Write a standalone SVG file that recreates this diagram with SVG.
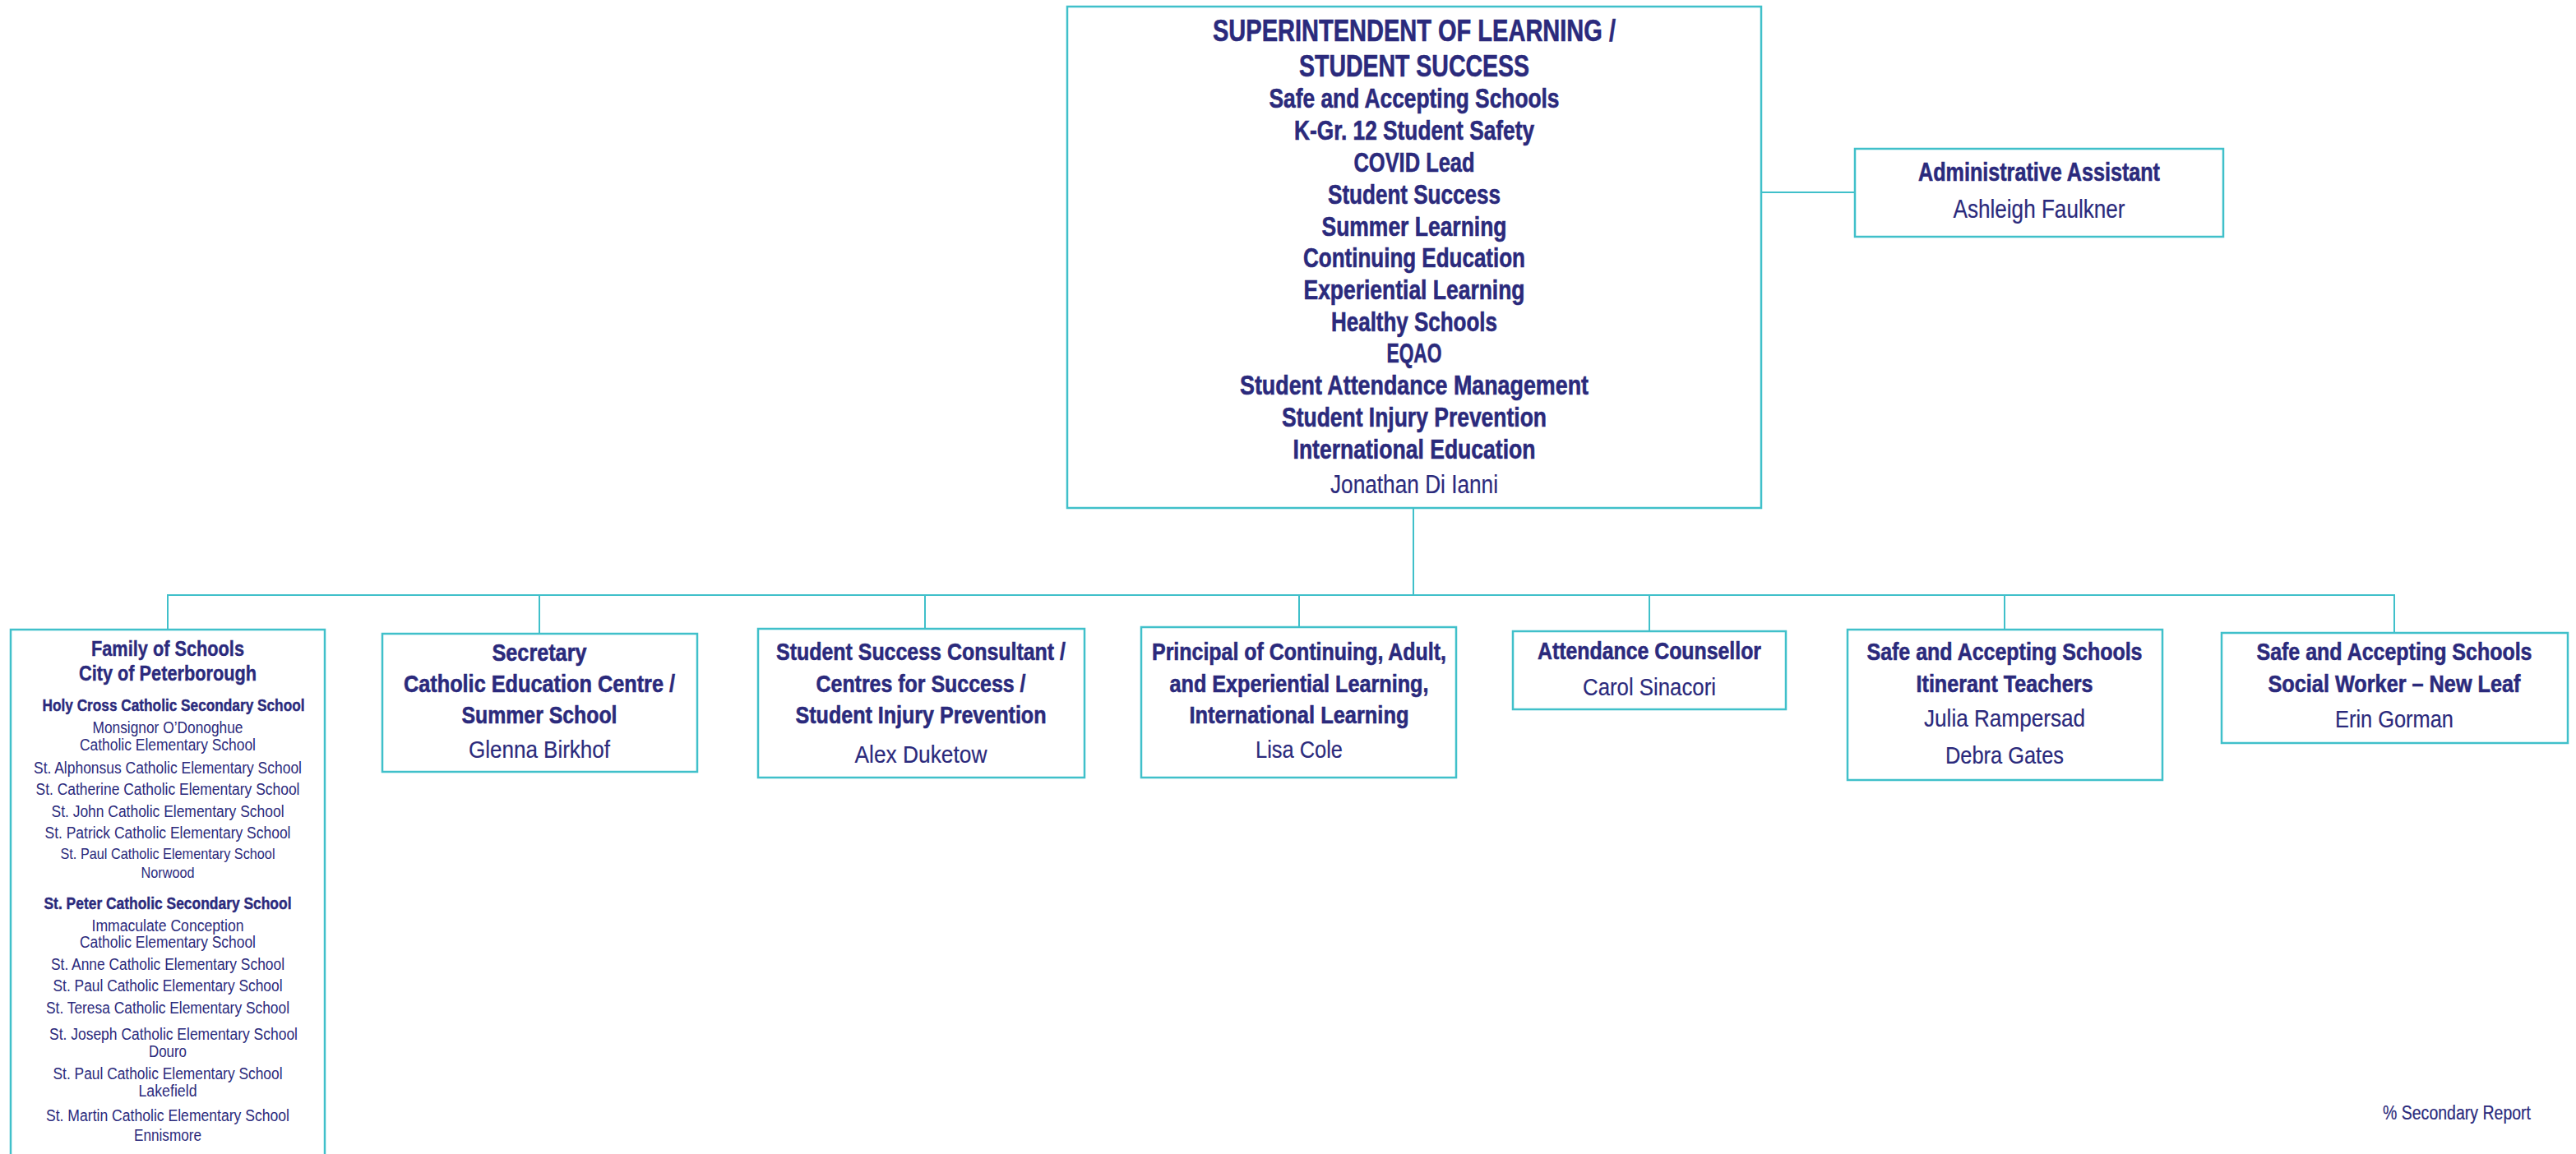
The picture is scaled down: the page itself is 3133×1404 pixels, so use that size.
<svg xmlns="http://www.w3.org/2000/svg" width="3133" height="1404" viewBox="0 0 3133 1404">
<style>
.box{fill:#ffffff;stroke:#40c0ca;stroke-width:2.5}
.ln{stroke:#40c0ca;stroke-width:2;fill:none}
.b{font-family:"Liberation Sans Narrow","Liberation Sans",Arial,sans-serif;font-weight:bold;fill:#2b2a7c;stroke:#2b2a7c;stroke-width:0.6;text-anchor:middle}
.r{font-family:"Liberation Sans Narrow","Liberation Sans",Arial,sans-serif;font-weight:normal;fill:#2b2a7c;stroke:#2b2a7c;stroke-width:0.2;text-anchor:middle}
.fb{font-family:"Liberation Sans Narrow","Liberation Sans",Arial,sans-serif;font-weight:bold;fill:#2b2a7c;stroke:#2b2a7c;stroke-width:0.4;text-anchor:middle}
.fr{font-family:"Liberation Sans Narrow","Liberation Sans",Arial,sans-serif;font-weight:normal;fill:#2b2a7c;text-anchor:middle}
</style>
<rect width="3133" height="1404" fill="#ffffff"/>
<g id="connectors">
<line class="ln" x1="2142" y1="234" x2="2256" y2="234"/>
<line class="ln" x1="1719" y1="618" x2="1719" y2="724"/>
<line class="ln" x1="203" y1="724" x2="2913" y2="724"/>
<line class="ln" x1="204" y1="724" x2="204" y2="766"/>
<line class="ln" x1="656" y1="724" x2="656" y2="771"/>
<line class="ln" x1="1125" y1="724" x2="1125" y2="765"/>
<line class="ln" x1="1580" y1="724" x2="1580" y2="763"/>
<line class="ln" x1="2006" y1="724" x2="2006" y2="768"/>
<line class="ln" x1="2438" y1="724" x2="2438" y2="766"/>
<line class="ln" x1="2912" y1="724" x2="2912" y2="770"/>
</g>
<g id="superintendent">
<rect class="box" x="1298" y="8" width="844" height="610"/>
<text class="b" x="1720" y="50" font-size="37" textLength="490" lengthAdjust="spacingAndGlyphs">SUPERINTENDENT OF LEARNING /</text>
<text class="b" x="1720" y="93" font-size="37" textLength="280" lengthAdjust="spacingAndGlyphs">STUDENT SUCCESS</text>
<text class="b" x="1720" y="131" font-size="33" textLength="353" lengthAdjust="spacingAndGlyphs">Safe and Accepting Schools</text>
<text class="b" x="1720" y="170" font-size="33" textLength="292" lengthAdjust="spacingAndGlyphs">K-Gr. 12 Student Safety</text>
<text class="b" x="1720" y="209" font-size="33" textLength="147" lengthAdjust="spacingAndGlyphs">COVID Lead</text>
<text class="b" x="1720" y="248" font-size="33" textLength="210" lengthAdjust="spacingAndGlyphs">Student Success</text>
<text class="b" x="1720" y="287" font-size="33" textLength="225" lengthAdjust="spacingAndGlyphs">Summer Learning</text>
<text class="b" x="1720" y="325" font-size="33" textLength="270" lengthAdjust="spacingAndGlyphs">Continuing Education</text>
<text class="b" x="1720" y="364" font-size="33" textLength="269" lengthAdjust="spacingAndGlyphs">Experiential Learning</text>
<text class="b" x="1720" y="403" font-size="33" textLength="202" lengthAdjust="spacingAndGlyphs">Healthy Schools</text>
<text class="b" x="1720" y="441" font-size="33" textLength="67" lengthAdjust="spacingAndGlyphs">EQAO</text>
<text class="b" x="1720" y="480" font-size="33" textLength="424" lengthAdjust="spacingAndGlyphs">Student Attendance Management</text>
<text class="b" x="1720" y="519" font-size="33" textLength="322" lengthAdjust="spacingAndGlyphs">Student Injury Prevention</text>
<text class="b" x="1720" y="558" font-size="33" textLength="295" lengthAdjust="spacingAndGlyphs">International Education</text>
<text class="r" x="1720" y="600" font-size="31" textLength="204" lengthAdjust="spacingAndGlyphs">Jonathan Di Ianni</text>
</g>
<g id="admin-assistant">
<rect class="box" x="2256" y="181" width="448" height="107"/>
<text class="b" x="2480" y="220" font-size="31" textLength="294" lengthAdjust="spacingAndGlyphs">Administrative Assistant</text>
<text class="r" x="2480" y="265" font-size="31" textLength="209" lengthAdjust="spacingAndGlyphs">Ashleigh Faulkner</text>
</g>
<g id="family-of-schools">
<rect class="box" x="13" y="766" width="382" height="660"/>
<text class="fb" x="204" y="798" font-size="25" textLength="186" lengthAdjust="spacingAndGlyphs">Family of Schools</text>
<text class="fb" x="204" y="828" font-size="25" textLength="216" lengthAdjust="spacingAndGlyphs">City of Peterborough</text>
<text class="fb" x="211" y="865" font-size="20" textLength="319" lengthAdjust="spacingAndGlyphs">Holy Cross Catholic Secondary School</text>
<text class="fr" x="204" y="892" font-size="19.5" textLength="183" lengthAdjust="spacingAndGlyphs">Monsignor O’Donoghue</text>
<text class="fr" x="204" y="913" font-size="19.5" textLength="214" lengthAdjust="spacingAndGlyphs">Catholic Elementary School</text>
<text class="fr" x="204" y="941" font-size="20" textLength="326" lengthAdjust="spacingAndGlyphs">St. Alphonsus Catholic Elementary School</text>
<text class="fr" x="204" y="967" font-size="20" textLength="321" lengthAdjust="spacingAndGlyphs">St. Catherine Catholic Elementary School</text>
<text class="fr" x="204" y="994" font-size="20" textLength="283" lengthAdjust="spacingAndGlyphs">St. John Catholic Elementary School</text>
<text class="fr" x="204" y="1020" font-size="20" textLength="299" lengthAdjust="spacingAndGlyphs">St. Patrick Catholic Elementary School</text>
<text class="fr" x="204" y="1045" font-size="19" textLength="261" lengthAdjust="spacingAndGlyphs">St. Paul Catholic Elementary School</text>
<text class="fr" x="204" y="1068" font-size="19" textLength="65" lengthAdjust="spacingAndGlyphs">Norwood</text>
<text class="fb" x="204" y="1106" font-size="20" textLength="301" lengthAdjust="spacingAndGlyphs">St. Peter Catholic Secondary School</text>
<text class="fr" x="204" y="1133" font-size="19.5" textLength="185" lengthAdjust="spacingAndGlyphs">Immaculate Conception</text>
<text class="fr" x="204" y="1153" font-size="19.5" textLength="214" lengthAdjust="spacingAndGlyphs">Catholic Elementary School</text>
<text class="fr" x="204" y="1180" font-size="20" textLength="284" lengthAdjust="spacingAndGlyphs">St. Anne Catholic Elementary School</text>
<text class="fr" x="204" y="1206" font-size="20" textLength="279" lengthAdjust="spacingAndGlyphs">St. Paul Catholic Elementary School</text>
<text class="fr" x="204" y="1233" font-size="20" textLength="296" lengthAdjust="spacingAndGlyphs">St. Teresa Catholic Elementary School</text>
<text class="fr" x="211" y="1265" font-size="20" textLength="302" lengthAdjust="spacingAndGlyphs">St. Joseph Catholic Elementary School</text>
<text class="fr" x="204" y="1286" font-size="20" textLength="46" lengthAdjust="spacingAndGlyphs">Douro</text>
<text class="fr" x="204" y="1313" font-size="20" textLength="279" lengthAdjust="spacingAndGlyphs">St. Paul Catholic Elementary School</text>
<text class="fr" x="204" y="1334" font-size="20" textLength="71" lengthAdjust="spacingAndGlyphs">Lakefield</text>
<text class="fr" x="204" y="1364" font-size="20" textLength="296" lengthAdjust="spacingAndGlyphs">St. Martin Catholic Elementary School</text>
<text class="fr" x="204" y="1388" font-size="20" textLength="82" lengthAdjust="spacingAndGlyphs">Ennismore</text>
</g>
<g id="secretary">
<rect class="box" x="465" y="771" width="383" height="168"/>
<text class="b" x="656" y="804" font-size="30" textLength="115" lengthAdjust="spacingAndGlyphs">Secretary</text>
<text class="b" x="656" y="842" font-size="30" textLength="330" lengthAdjust="spacingAndGlyphs">Catholic Education Centre /</text>
<text class="b" x="656" y="880" font-size="30" textLength="189" lengthAdjust="spacingAndGlyphs">Summer School</text>
<text class="r" x="656" y="922" font-size="30" textLength="172" lengthAdjust="spacingAndGlyphs">Glenna Birkhof</text>
</g>
<g id="student-success-consultant">
<rect class="box" x="922" y="765" width="397" height="181"/>
<text class="b" x="1120" y="803" font-size="30" textLength="352" lengthAdjust="spacingAndGlyphs">Student Success Consultant /</text>
<text class="b" x="1120" y="842" font-size="30" textLength="255" lengthAdjust="spacingAndGlyphs">Centres for Success /</text>
<text class="b" x="1120" y="880" font-size="30" textLength="305" lengthAdjust="spacingAndGlyphs">Student Injury Prevention</text>
<text class="r" x="1120" y="928" font-size="30" textLength="161" lengthAdjust="spacingAndGlyphs">Alex Duketow</text>
</g>
<g id="principal">
<rect class="box" x="1388" y="763" width="383" height="183"/>
<text class="b" x="1580" y="803" font-size="30" textLength="358" lengthAdjust="spacingAndGlyphs">Principal of Continuing, Adult,</text>
<text class="b" x="1580" y="842" font-size="30" textLength="315" lengthAdjust="spacingAndGlyphs">and Experiential Learning,</text>
<text class="b" x="1580" y="880" font-size="30" textLength="267" lengthAdjust="spacingAndGlyphs">International Learning</text>
<text class="r" x="1580" y="922" font-size="30" textLength="106" lengthAdjust="spacingAndGlyphs">Lisa Cole</text>
</g>
<g id="attendance-counsellor">
<rect class="box" x="1840" y="768" width="332" height="95"/>
<text class="b" x="2006" y="802" font-size="30" textLength="272" lengthAdjust="spacingAndGlyphs">Attendance Counsellor</text>
<text class="r" x="2006" y="846" font-size="30" textLength="162" lengthAdjust="spacingAndGlyphs">Carol Sinacori</text>
</g>
<g id="itinerant-teachers">
<rect class="box" x="2247" y="766" width="383" height="183"/>
<text class="b" x="2438" y="803" font-size="30" textLength="335" lengthAdjust="spacingAndGlyphs">Safe and Accepting Schools</text>
<text class="b" x="2438" y="842" font-size="30" textLength="215" lengthAdjust="spacingAndGlyphs">Itinerant Teachers</text>
<text class="r" x="2438" y="884" font-size="30" textLength="196" lengthAdjust="spacingAndGlyphs">Julia Rampersad</text>
<text class="r" x="2438" y="929" font-size="30" textLength="144" lengthAdjust="spacingAndGlyphs">Debra Gates</text>
</g>
<g id="social-worker">
<rect class="box" x="2702" y="770" width="421" height="134"/>
<text class="b" x="2912" y="803" font-size="30" textLength="335" lengthAdjust="spacingAndGlyphs">Safe and Accepting Schools</text>
<text class="b" x="2912" y="842" font-size="30" textLength="307" lengthAdjust="spacingAndGlyphs">Social Worker – New Leaf</text>
<text class="r" x="2912" y="885" font-size="30" textLength="144" lengthAdjust="spacingAndGlyphs">Erin Gorman</text>
</g>
<g id="legend">
<text class="r" x="2898" y="1362" font-size="23" style="text-anchor:start" textLength="180" lengthAdjust="spacingAndGlyphs">% Secondary Report</text>
</g>
</svg>
